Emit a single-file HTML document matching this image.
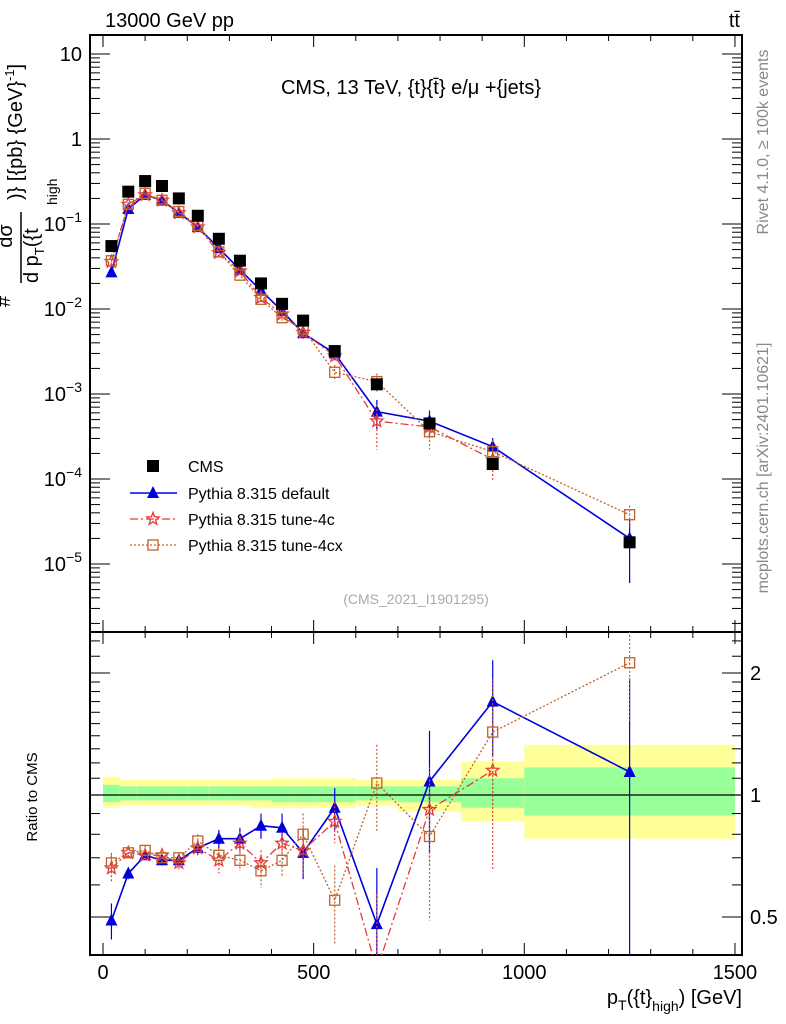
<!DOCTYPE html>
<html><head><meta charset="utf-8"><style>
html,body{margin:0;background:#fff;overflow:hidden;width:786px;height:1024px}
svg{display:block;font-family:"Liberation Sans",sans-serif}
</style></head><body>
<svg id="c" width="786" height="1024" viewBox="0 0 786 1024" xmlns="http://www.w3.org/2000/svg">
<text x="105" y="27" font-size="20">13000 GeV pp</text>
<text x="740" y="27" font-size="20" text-anchor="end">tt̄</text>
<text transform="translate(768,142) rotate(-90)" font-size="16" fill="#888" text-anchor="middle">Rivet 4.1.0, ≥ 100k events</text>
<text transform="translate(768,468) rotate(-90)" font-size="16" fill="#888" text-anchor="middle">mcplots.cern.ch [arXiv:2401.10621]</text>
<text x="411" y="94" font-size="20" text-anchor="middle">CMS, 13 TeV, {t}{t̄} e/μ +{jets}</text>
<text x="416" y="604" font-size="14" fill="#aaa" text-anchor="middle">(CMS_2021_I1901295)</text>
<g font-size="20">
<text transform="translate(22,200) rotate(-90)">)} [{pb} {GeV}<tspan font-size="13" dy="-8">-1</tspan><tspan dy="8">]</tspan></text>
<text transform="translate(10,307) rotate(-90)">#</text>
<text transform="translate(12,236) rotate(-90)" text-anchor="middle">dσ</text>
<line x1="21" y1="212" x2="21" y2="283" stroke="#000" stroke-width="1.5"/>
<text transform="translate(38,283) rotate(-90)">d p<tspan font-size="13" dy="6">T</tspan><tspan dy="-6">({t</tspan></text>
<text transform="translate(57,205) rotate(-90)" font-size="14">high</text>
</g>
<text transform="translate(37,797) rotate(-90)" font-size="15" text-anchor="middle">Ratio to CMS</text>
<text x="742" y="1004" font-size="20" text-anchor="end">p<tspan font-size="14" dy="6">T</tspan><tspan dy="-6">({t}</tspan><tspan font-size="14" dy="7">high</tspan><tspan dy="-7">) [GeV]</tspan></text>
<g id="g"></g>
</svg>
<script>
const centers=[20,60,100,140,180,225,275,325,375,425,475,550,650,775,925,1250];
const edges=[0,40,80,120,160,200,250,300,350,400,450,500,600,700,850,1000,1500];
const cmsVals=[0.055,0.24,0.32,0.28,0.20,0.125,0.067,0.037,0.020,0.0115,0.0073,0.0032,0.0013,0.00045,0.00015,1.8e-5];
const defVals=[0.027,0.15,0.22,0.19,0.135,0.092,0.052,0.029,0.0165,0.0095,0.0052,0.0030,0.00062,0.00048,0.00024,2.0e-5];
const c4Vals=[0.036,0.17,0.22,0.19,0.135,0.092,0.046,0.028,0.0136,0.0087,0.0053,0.0028,0.00048,0.00041,0.00017,null];
const cxVals=[0.037,0.17,0.23,0.19,0.14,0.096,0.047,0.025,0.013,0.0079,0.0058,0.0018,0.0014,0.00036,0.00021,0.000038];
const defRatio=[0.49,0.64,0.71,0.69,0.69,0.74,0.78,0.78,0.84,0.83,0.72,0.93,0.48,1.08,1.70,1.14];
const c4Ratio=[0.66,0.72,0.71,0.71,0.68,0.74,0.69,0.76,0.68,0.76,0.73,0.86,0.37,0.92,1.15,null];
const cxRatio=[0.68,0.72,0.73,0.70,0.70,0.77,0.71,0.69,0.65,0.69,0.80,0.55,1.07,0.79,1.43,2.12];
const defErr=[0.05,0.02,0.02,0.02,0.02,0.03,0.04,0.05,0.06,0.07,0.1,0.11,0.18,0.36,0.45,0.8];
const c4Err=[0.05,0.02,0.02,0.03,0.03,0.03,0.05,0.05,0.05,0.05,0.1,0.1,0.2,0.25,0.5,0];
const cxErr=[0.04,0.02,0.02,0.02,0.02,0.03,0.03,0.04,0.06,0.06,0.1,0.12,0.26,0.3,0.5,0.6];
const yelUp=[1.11,1.09,1.09,1.09,1.09,1.09,1.09,1.09,1.09,1.10,1.10,1.10,1.09,1.09,1.21,1.33];
const yelLo=[0.93,0.94,0.94,0.94,0.94,0.94,0.94,0.94,0.93,0.93,0.93,0.93,0.94,0.91,0.86,0.78];
const grnUp=[1.06,1.05,1.05,1.05,1.05,1.05,1.05,1.05,1.05,1.05,1.05,1.05,1.05,1.05,1.10,1.17];
const grnLo=[0.96,0.97,0.97,0.97,0.97,0.97,0.97,0.97,0.97,0.96,0.96,0.96,0.97,0.96,0.93,0.89];
const NS="http://www.w3.org/2000/svg";
const g=document.getElementById('g');
function el(t,a,p){const e=document.createElementNS(NS,t);for(const k in a)e.setAttribute(k,a[k]);(p||g).appendChild(e);return e;}
const X=v=>103+v*0.4213;
const Y=v=>54-(Math.log10(v)-1)*85;
const R=v=>795-Math.log2(v)*122;
const L=90,Rt=742,T=35,MB=632,RB=955;
const clipR=el('clipPath',{id:'cr'});el('rect',{x:L,y:MB,width:Rt-L,height:RB-MB},clipR);
const clipM=el('clipPath',{id:'cm'});el('rect',{x:L,y:T,width:Rt-L,height:MB-T},clipM);
const bands=el('g',{'clip-path':'url(#cr)'});


for(let i=0;i<centers.length;i++){
 const x0=X(edges[i]),x1=X(edges[i+1]);
 el('rect',{x:x0,y:R(yelUp[i]),width:x1-x0,height:R(yelLo[i])-R(yelUp[i]),fill:'#ffff99'},bands);
 el('rect',{x:x0,y:R(grnUp[i]),width:x1-x0,height:R(grnLo[i])-R(grnUp[i]),fill:'#99ff99'},bands);
}
el('line',{x1:L,x2:Rt,y1:R(1),y2:R(1),stroke:'#000','stroke-width':1.3});
el('rect',{x:L,y:T,width:Rt-L,height:MB-T,fill:'none',stroke:'#000','stroke-width':2});
el('rect',{x:L,y:MB,width:Rt-L,height:RB-MB,fill:'none',stroke:'#000','stroke-width':2});
for(let v=0;v<=1500;v+=100){
 const big=v%500===0,len=big?12:6,x=X(v);
 el('line',{x1:x,x2:x,y1:T,y2:T+len,stroke:'#000'});
 el('line',{x1:x,x2:x,y1:MB,y2:MB-len,stroke:'#000'});
 el('line',{x1:x,x2:x,y1:MB,y2:MB+len,stroke:'#000'});
 el('line',{x1:x,x2:x,y1:RB,y2:RB-len,stroke:'#000'});
 if(big){const t=el('text',{x:x,y:RB+24,'font-size':20,'text-anchor':'middle'});t.textContent=v;
 
 }
}
const yl=[-5,-4,-3,-2,-1,0,1];
for(let d=-6;d<=1;d++){for(let m=1;m<10;m++){const v=m*Math.pow(10,d);const y=Y(v);if(y<T||y>MB)continue;
 const len=m===1?20:10;
 el('line',{x1:L,x2:L+len,y1:y,y2:y,stroke:'#000'});el('line',{x1:Rt,x2:Rt-len,y1:y,y2:y,stroke:'#000'});}}
for(const d of yl){const t=el('text',{x:82,y:Y(Math.pow(10,d))+7,'font-size':20,'text-anchor':'end'});
 
 
 if(d===0)t.textContent='1';else if(d===1)t.textContent='10';
 else{t.textContent='10';const s=el('tspan',{'font-size':14,dy:-9},t);s.textContent='−'+(-d);}}
const rt=[0.4,0.5,0.6,0.7,0.8,0.9,1,1.1,1.2,1.3,1.4,1.5,1.6,1.7,1.8,1.9,2,2.2,2.4];
for(const v of rt){const y=R(v);if(y<MB||y>RB)continue;const big=(v===0.5||v===1||v===2);const len=big?20:10;
 el('line',{x1:L,x2:L+len,y1:y,y2:y,stroke:'#000'});el('line',{x1:Rt,x2:Rt-len,y1:y,y2:y,stroke:'#000'});}
for(const v of [0.5,1,2]){const t=el('text',{x:750,y:R(v)+7,'font-size':20});t.textContent=v;
 
 }
function marker(type,x,y,col,p){
 if(type==='sq')el('rect',{x:x-6,y:y-6,width:12,height:12,fill:'#000'},p);
 else if(type==='tri')el('polygon',{points:`${x},${y-7} ${x-6},${y+5} ${x+6},${y+5}`,fill:col},p);
 else if(type==='star'){let pts=[];for(let k=0;k<10;k++){const r=k%2?2.8:6.5,a=-Math.PI/2+k*Math.PI/5;pts.push((x+r*Math.cos(a)).toFixed(1)+','+(y+r*Math.sin(a)).toFixed(1));}
  el('polygon',{points:pts.join(' '),fill:'none',stroke:col,'stroke-width':1.3},p);}
 else el('rect',{x:x-5,y:y-5,width:10,height:10,fill:'none',stroke:col,'stroke-width':1.3},p);
}
const series=[
 {name:'pythia-default',v:defVals,r:defRatio,e:defErr,col:'#0000dd',dash:'',type:'tri',w:1.6},
 {name:'pythia-tune-4c',v:c4Vals,r:c4Ratio,e:c4Err,col:'#e83a3a',dash:'8,3,2,3',type:'star',w:1.3},
 {name:'pythia-tune-4cx',v:cxVals,r:cxRatio,e:cxErr,col:'#c0602a',dash:'2,2',type:'box',w:1.3}];
for(const s of series){
 for(const [vals,F,cl,errs,isR] of [[s.v,Y,'cm',null,false],[s.r,R,'cr',s.e,true]]){
  const grp=el('g',{'clip-path':`url(#${cl})`});
  
  
  let d='';vals.forEach((v,i)=>{if(v==null)return;d+=(d?'L':'M')+X(centers[i])+','+F(v);});
  el('path',{d,fill:'none',stroke:s.col,'stroke-width':s.w,'stroke-dasharray':s.dash},grp);
  vals.forEach((v,i)=>{if(v==null)return;const x=X(centers[i]);
   const rel=s.e[i]/s.r[i];
   const hi=isR?v+errs[i]:v*(1+rel),lo=isR?Math.max(v-errs[i],0.01):Math.max(v*(1-rel),1e-9);
   el('line',{x1:x,x2:x,y1:F(hi),y2:F(lo),stroke:s.col,'stroke-width':1.2,'stroke-dasharray':s.type==='tri'?'':'2,2'},grp);
   marker(s.type,x,F(v),s.col,grp);});
 }
}
const cg=el('g',{'clip-path':'url(#cm)'});


cmsVals.forEach((v,i)=>marker('sq',X(centers[i]),Y(v),'#000',cg));
const lg=el('g',{});


const lab=['CMS','Pythia 8.315 default','Pythia 8.315 tune-4c','Pythia 8.315 tune-4cx'];
const ly=[466,493,519,545];
lab.forEach((t,i)=>{
 const e=el('g',{},lg);
 
 
 if(i===0)marker('sq',153,ly[i],'#000',e);
 else{const s=series[i-1];el('line',{x1:130,x2:177,y1:ly[i],y2:ly[i],stroke:s.col,'stroke-width':s.w,'stroke-dasharray':s.dash},e);marker(s.type,153,ly[i],s.col,e);}
 const tx=el('text',{x:188,y:ly[i]+6,'font-size':16},e);tx.textContent=t;});
</script>
</body></html>
